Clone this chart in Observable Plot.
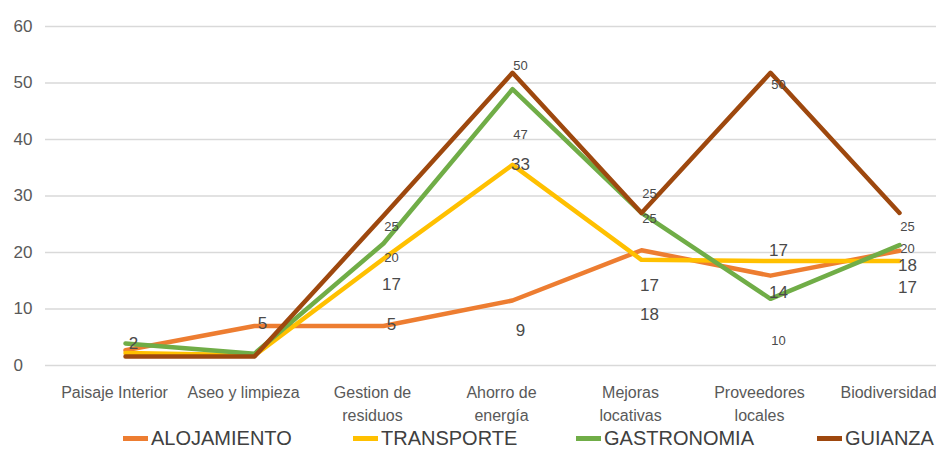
<!DOCTYPE html>
<html><head><meta charset="utf-8">
<script src="https://cdn.jsdelivr.net/npm/d3@7"></script>
<script src="https://cdn.jsdelivr.net/npm/@observablehq/plot@0.6"></script>
<style>
body{margin:0;background:#fff;overflow:hidden;}
#wrap{position:relative;width:936px;height:450px;overflow:hidden;font-family:"Liberation Sans",Arial,sans-serif;}
#legend{position:absolute;top:426px;left:0;width:936px;height:24px;}
.item{position:absolute;top:0;height:24px;display:flex;align-items:center;font-size:20px;color:#404040;white-space:nowrap;}
.sw{width:25px;height:5px;margin-right:3px;}
</style></head><body><div id="wrap"><div id="chart"></div><div id="legend"></div></div>
<script>
const categories = ["Paisaje Interior","Aseo y limpieza","Gestion de residuos","Ahorro de energía","Mejoras locativas","Proveedores locales","Biodiversidad"];
const categoryLabels = ["Paisaje Interior","Aseo y limpieza","Gestion de\nresiduos","Ahorro de\nenergía","Mejoras\nlocativas","Proveedores\nlocales","Biodiversidad"];
const seriesNames = ["ALOJAMIENTO","TRANSPORTE","GASTRONOMIA","GUIANZA"];
const seriesColors = ["#ED7D31","#FFC000","#70AD47","#9E480E"];
const alojamiento = [2.7, 7.0, 7.0, 11.5, 20.4, 15.9, 20.3];
const transporte  = [2.2, 1.8, 18.9, 35.5, 18.7, 18.5, 18.5];
const gastronomia = [3.9, 2.1, 21.6, 48.9, 27.0, 11.8, 21.3];
const guianza     = [1.6, 1.6, 26.5, 51.8, 27.0, 51.8, 27.0];
const yTicks = [0, 10, 20, 30, 40, 50, 60];

// data labels as they appear in the picture (text and the level where each sits)
const labelCategory = [0, 1, 2, 2, 2, 2, 3, 3, 3, 3, 4, 4, 4, 4, 5, 5, 5, 5, 6, 6, 6, 6];
const labelSeries   = ["ALOJAMIENTO","ALOJAMIENTO","GUIANZA","GASTRONOMIA","TRANSPORTE","ALOJAMIENTO","GUIANZA","GASTRONOMIA","TRANSPORTE","ALOJAMIENTO","GUIANZA","GASTRONOMIA","TRANSPORTE","ALOJAMIENTO","GUIANZA","TRANSPORTE","ALOJAMIENTO","GASTRONOMIA","GUIANZA","GASTRONOMIA","ALOJAMIENTO","TRANSPORTE"];
const labelText     = ["2","5","25","20","17","5","50","47","33","9","25","25","17","18","50","17","14","10","25","20","18","17"];
const labelLevel    = [3.9, 7.4, 24.6, 19.1, 14.3, 7.2, 53.0, 40.8, 35.5, 6.1, 30.3, 26.0, 14.1, 9.0, 49.6, 20.3, 12.9, 4.4, 24.6, 20.7, 17.7, 13.8];

const seriesValues = [alojamiento, transporte, gastronomia, guianza];
const rows = seriesNames.flatMap((s, i) => categories.map((c, j) => ({series: s, cat: c, value: seriesValues[i][j]})));
const labels = labelText.map((t, k) => ({cat: categories[labelCategory[k]], text: t, level: labelLevel[k], series: labelSeries[k]}));
const small = d => d.series === "GUIANZA" || d.series === "GASTRONOMIA";

const chart = Plot.plot({
  width: 936, height: 426,
  marginLeft: 45, marginRight: 0, marginTop: 26, marginBottom: 61,
  x: {type: "point", domain: categories, range: [125, 899], padding: 0},
  y: {domain: [0, 60], range: [365, 26]},
  color: {domain: seriesNames, range: seriesColors},
  style: {fontFamily: '"Liberation Sans", Arial, sans-serif', background: "white", overflow: "visible"},
  marks: [
    Plot.ruleY(yTicks, {stroke: "#d9d9d9", strokeWidth: 1.6}),
    Plot.axisY({ticks: yTicks, tickSize: 0, textAnchor: "start", dx: -23, fontSize: 17, fill: "#595959", label: null}),
    Plot.axisX({tickSize: 0, tickPadding: 17, dx: -11, fontSize: 16, fill: "#595959", lineHeight: 1.4, label: null,
      tickFormat: c => categoryLabels[categories.indexOf(c)]}),
    Plot.line(rows, {x: "cat", y: "value", z: "series", stroke: "series", strokeWidth: 4.5}),
    Plot.text(labels.filter(d => !small(d)), {x: "cat", y: "level", text: "text", dx: 8, fontSize: 17, fill: "#4a4a4a"}),
    Plot.text(labels.filter(small), {x: "cat", y: "level", text: "text", dx: 8, fontSize: 13, fill: "#4a4a4a"})
  ]
});
document.getElementById("chart").appendChild(chart);

const legendLeft = [123, 353, 576, 817];
const legend = document.getElementById("legend");
seriesNames.forEach((s, i) => {
  const it = document.createElement("div");
  it.className = "item";
  it.style.left = legendLeft[i] + "px";
  it.innerHTML = `<span class="sw" style="background:${seriesColors[i]}"></span>${s}`;
  legend.appendChild(it);
});
</script></body></html>
